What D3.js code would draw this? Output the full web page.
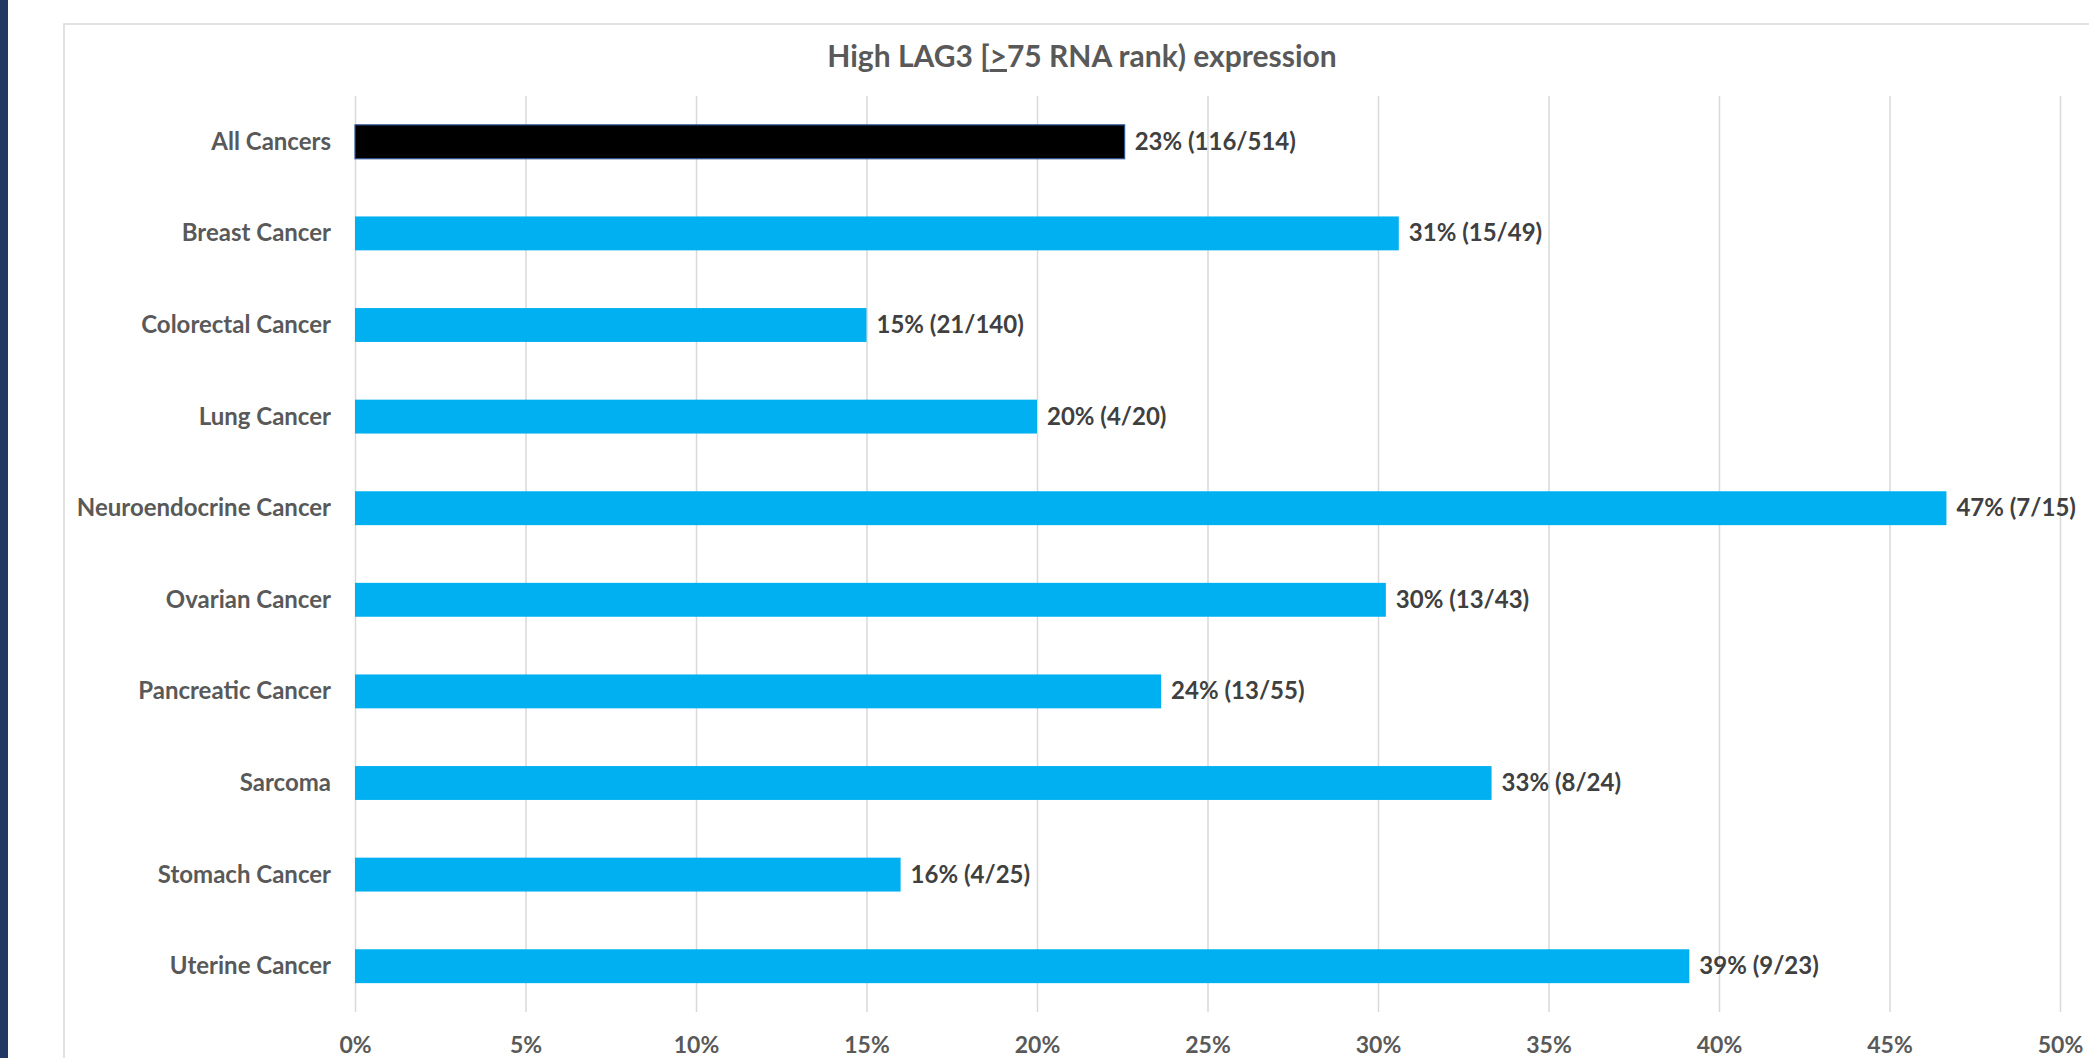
<!DOCTYPE html>
<html>
<head>
<meta charset="utf-8">
<script src="https://cdn.jsdelivr.net/npm/d3@7"></script>
<style>
  html, body { margin: 0; padding: 0; background: #ffffff; }
  svg { display: block; }
  text { font-family: Lato, "Open Sans", sans-serif; font-weight: 700; }
</style>
</head>
<body>
<svg id="chart" width="2089" height="1058"></svg>
<script>
const categories = ["All Cancers", "Breast Cancer", "Colorectal Cancer", "Lung Cancer",
  "Neuroendocrine Cancer", "Ovarian Cancer", "Pancreatic Cancer", "Sarcoma",
  "Stomach Cancer", "Uterine Cancer"];
const values = [22.57, 30.61, 15.00, 20.00, 46.67, 30.23, 23.64, 33.33, 16.00, 39.13];
const valueLabels = ["23% (116/514)", "31% (15/49)", "15% (21/140)", "20% (4/20)",
  "47% (7/15)", "30% (13/43)", "24% (13/55)", "33% (8/24)", "16% (4/25)", "39% (9/23)"];
const tickValues = [0, 5, 10, 15, 20, 25, 30, 35, 40, 45, 50];
const tickLabels = ["0%", "5%", "10%", "15%", "20%", "25%", "30%", "35%", "40%", "45%", "50%"];
const titleParts = ["High LAG3 [", ">", "75 RNA rank) expression"];

const svg = d3.select("#chart");
const W = 2089, H = 1058;

// left dark strip
svg.append("rect").attr("x", 0).attr("y", 0).attr("width", 8).attr("height", H).attr("fill", "#1f3864");
// chart area border
svg.append("rect").attr("x", 64).attr("y", 24).attr("width", 2100).attr("height", 1100)
  .attr("fill", "#ffffff").attr("stroke", "#d9d9d9").attr("stroke-width", 1.5);

const plot = { left: 355, right: 2060, top: 96, bottom: 1012 };
const x = d3.scaleLinear().domain([0, 50]).range([plot.left, plot.right]);
const y = d3.scaleBand().domain(categories).range([plot.top, plot.bottom])
  .paddingInner(0.63).paddingOuter(0.315);

// gridlines + x tick labels
const xAxis = svg.append("g").attr("transform", `translate(0,${plot.bottom})`)
  .call(d3.axisBottom(x).tickValues(tickValues)
    .tickFormat((d, i) => tickLabels[i])
    .tickSize(-(plot.bottom - plot.top)));
xAxis.select(".domain").remove();
xAxis.selectAll("line").attr("stroke", "#d9d9d9").attr("stroke-width", 1.5);
xAxis.selectAll("text").attr("y", 41).attr("dy", 0)
  .attr("fill", "#595959").style("font-size", "23px");

// category labels
const yAxis = svg.append("g").attr("transform", `translate(${plot.left},0)`)
  .call(d3.axisLeft(y).tickSize(0).tickPadding(24));
yAxis.select(".domain").remove();
yAxis.selectAll("text").attr("fill", "#595959").attr("dy", "0.33em").style("font-size", "24px");

// bars
svg.append("g").selectAll("rect").data(categories).join("rect")
  .attr("x", x(0))
  .attr("y", d => y(d))
  .attr("width", (d, i) => x(values[i]) - x(0))
  .attr("height", y.bandwidth())
  .attr("fill", (d, i) => i === 0 ? "#000000" : "#00b0f0")
  .attr("stroke", (d, i) => i === 0 ? "#2f5597" : "none")
  .attr("stroke-width", 1.2);

// value labels
svg.append("g").selectAll("text").data(categories).join("text")
  .attr("x", (d, i) => x(values[i]) + 10)
  .attr("y", d => y(d) + y.bandwidth() / 2)
  .attr("dy", "0.33em")
  .attr("fill", "#404040")
  .style("font-size", "24px")
  .text((d, i) => valueLabels[i]);

// title
const title = svg.append("text").attr("x", 1082).attr("y", 67).attr("text-anchor", "middle")
  .attr("fill", "#595959").style("font-size", "30px");
title.append("tspan").text(titleParts[0]);
title.append("tspan").style("text-decoration", "underline").text(titleParts[1]);
title.append("tspan").text(titleParts[2]);
</script>
</body>
</html>
